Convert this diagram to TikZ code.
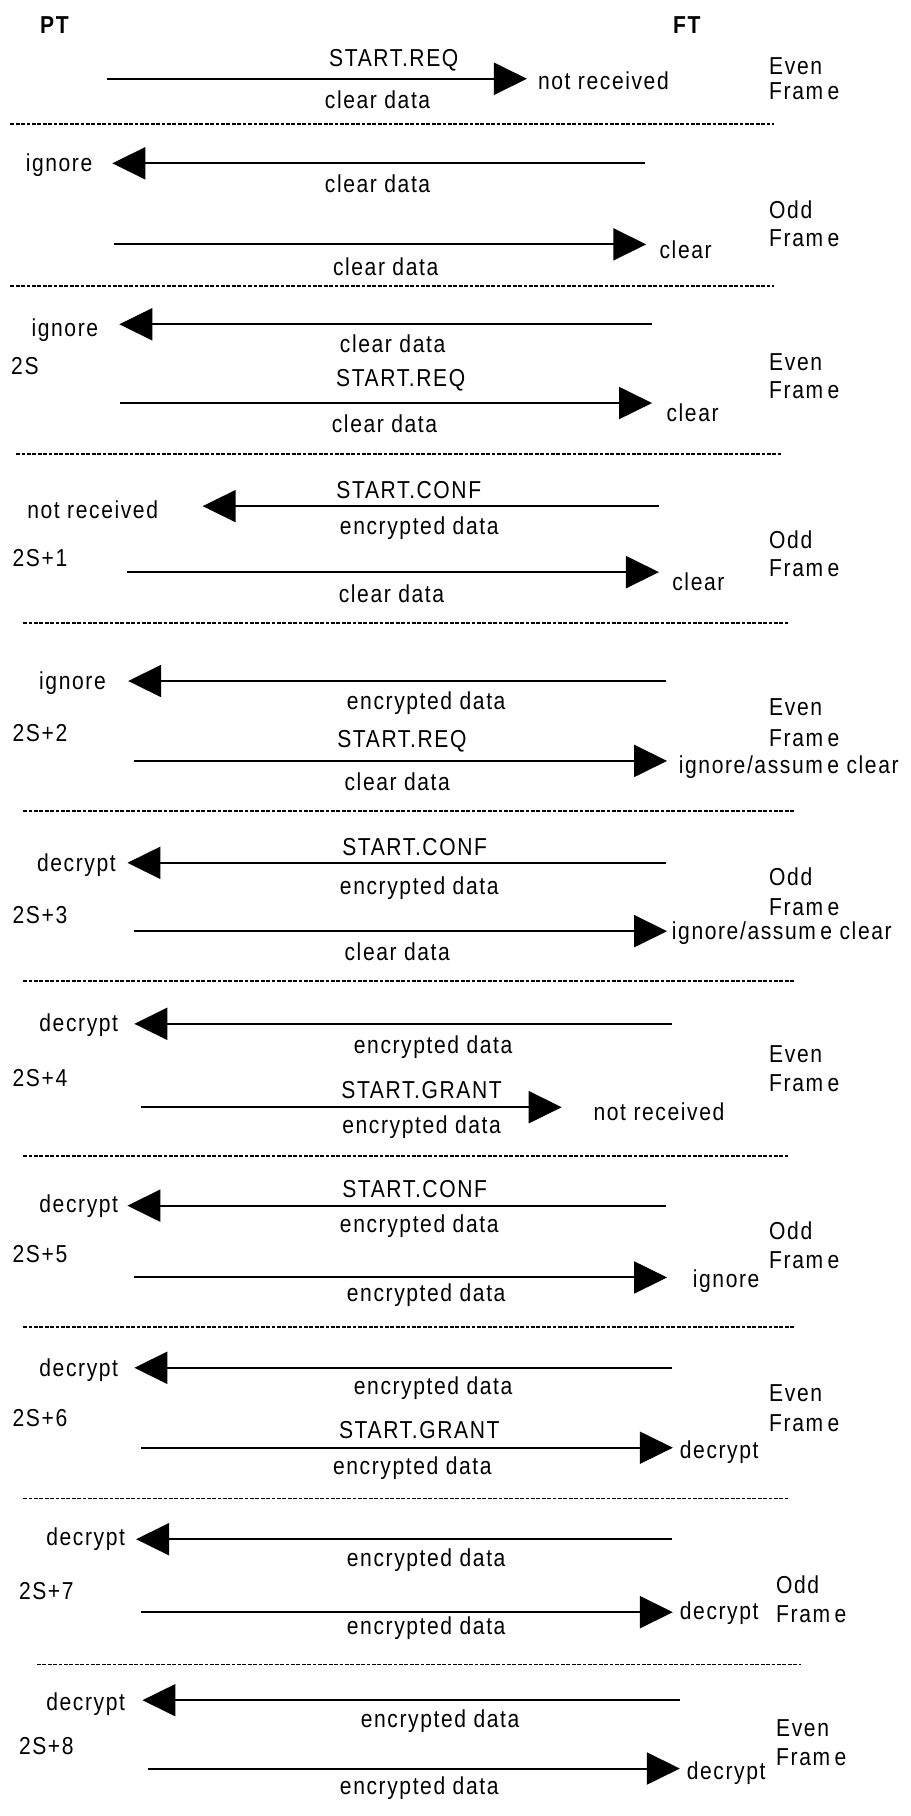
\documentclass[tikz,border=0pt]{standalone}
\usepackage{fontspec}
\setmainfont[FakeStretch=0.86,LetterSpace=6.5]{Liberation Sans}
\usetikzlibrary{arrows.meta}
\newcommand{\frameword}{Fram\kern4.5pt e}
\begin{document}
\begin{tikzpicture}[x=1.1578pt,y=-1.1578pt,
  txt/.style={inner sep=0pt,font=\fontsize{24.5}{28}\selectfont},
  hdr/.style={inner sep=0pt,font=\fontsize{24.5}{28}\selectfont\bfseries},
  frm/.style={inner sep=0pt,anchor=west,font=\fontsize{24.5}{28}\selectfont},
  msg/.style={line width=2pt,-{Triangle[length=33pt,width=32pt]}},
  sepline/.style={line width=1.6pt,dash pattern=on 3.8pt off 1.6pt}]
\useasboundingbox[fill=white] (0,0) rectangle (786,1568);
% header
\node[hdr] (pt) at (47,22) {PT};
\node[hdr] (ft) at (593,22) {FT};
% ---------- S1
\node[txt] (t1) at (340,52) {START.REQ};
\coordinate (a1s) at (92,68); \coordinate (a1e) at (455,68);
\draw[msg] (a1s) -- (a1e);
\node[txt] (r1) at (521,70) {not received};
\node[txt] (b1) at (326,86) {clear data};
\node[frm] (f1a) at (664,57) {Even};
\node[frm] (f1b) at (664,79) {\frameword};
\coordinate (d1s) at (9,107); \coordinate (d1e) at (668,107);
\draw[sepline] (d1s) -- (d1e);
% ---------- S2
\coordinate (l2s) at (557,141); \coordinate (l2e) at (97,141);
\draw[msg] (l2s) -- (l2e);
\node[txt] (ll2) at (51,143) {ignore};
\node[txt] (m2) at (326,159) {clear data};
\node[frm] (f2a) at (664,181) {Odd};
\node[frm] (f2b) at (664,206) {\frameword};
\coordinate (a2s) at (98,211); \coordinate (a2e) at (558,211);
\draw[msg] (a2s) -- (a2e);
\node[txt] (r2) at (592,216) {clear};
\node[txt] (b2) at (333,230) {clear data};
\coordinate (d2s) at (9,247); \coordinate (d2e) at (668,247);
\draw[sepline] (d2s) -- (d2e);
% ---------- S3
\coordinate (l3s) at (563,280); \coordinate (l3e) at (103,280);
\draw[msg] (l3s) -- (l3e);
\node[txt] (ll3) at (56,285) {ignore};
\node[txt] (m3) at (339,297) {clear data};
\node[txt] (n3) at (21.5,316) {2S};
\node[frm] (f3a) at (664,313) {Even};
\node[frm] (f3b) at (664,337) {\frameword};
\node[txt] (t3) at (346,328) {START.REQ};
\coordinate (a3s) at (104,348); \coordinate (a3e) at (563,348);
\draw[msg] (a3s) -- (a3e);
\node[txt] (r3) at (598,356) {clear};
\node[txt] (b3) at (332,366) {clear data};
\coordinate (d3s) at (14,392); \coordinate (d3e) at (674,392);
\draw[sepline] (d3s) -- (d3e);
% ---------- S4
\node[txt] (t4) at (353,423) {START.CONF};
\coordinate (l4s) at (569,437); \coordinate (l4e) at (175,437);
\draw[msg] (l4s) -- (l4e);
\node[txt] (ll4) at (80,440) {not received};
\node[txt] (m4) at (362,456) {encrypted data};
\node[txt] (n4) at (34.5,482) {2S+1};
\node[frm] (f4a) at (664,466) {Odd};
\node[frm] (f4b) at (664,491) {\frameword};
\coordinate (a4s) at (110,494); \coordinate (a4e) at (569,494);
\draw[msg] (a4s) -- (a4e);
\node[txt] (r4) at (603,502) {clear};
\node[txt] (b4) at (338,513) {clear data};
\coordinate (d4s) at (20,538); \coordinate (d4e) at (680,538);
\draw[sepline] (d4s) -- (d4e);
% ---------- S5
\coordinate (l5s) at (575,588); \coordinate (l5e) at (110.7,588);
\draw[msg] (l5s) -- (l5e);
\node[txt] (ll5) at (62.6,590) {ignore};
\node[txt] (m5) at (368,607) {encrypted data};
\node[txt] (n5) at (34.5,633) {2S+2};
\node[frm] (f5a) at (664,611) {Even};
\node[frm] (f5b) at (664,637) {\frameword};
\node[txt] (t5) at (347,640) {START.REQ};
\coordinate (a5s) at (116,657); \coordinate (a5e) at (576,657);
\draw[msg] (a5s) -- (a5e);
\node[frm] (r5) at (586,662) {ignore/assum\kern4.5pt e clear};
\node[txt] (b5) at (343,675) {clear data};
\coordinate (d5s) at (20,700); \coordinate (d5e) at (686,700);
\draw[sepline] (d5s) -- (d5e);
% ---------- S6
\node[txt] (t6) at (358,731) {START.CONF};
\coordinate (l6s) at (575,745); \coordinate (l6e) at (110,745);
\draw[msg] (l6s) -- (l6e);
\node[txt] (ll6) at (66,747) {decrypt};
\node[txt] (m6) at (362,767) {encrypted data};
\node[txt] (n6) at (34.5,790) {2S+3};
\node[frm] (f6a) at (664,757) {Odd};
\node[frm] (f6b) at (664,783) {\frameword};
\coordinate (a6s) at (116,804); \coordinate (a6e) at (576,804);
\draw[msg] (a6s) -- (a6e);
\node[frm] (r6) at (580,806) {ignore/assum\kern4.5pt e clear};
\node[txt] (b6) at (343,822) {clear data};
\coordinate (d6s) at (20,847); \coordinate (d6e) at (686,847);
\draw[sepline] (d6s) -- (d6e);
% ---------- S7
\coordinate (l7s) at (580,884); \coordinate (l7e) at (116,884);
\draw[msg] (l7s) -- (l7e);
\node[txt] (ll7) at (68,885) {decrypt};
\node[txt] (m7) at (374,904) {encrypted data};
\node[txt] (n7) at (34.5,931) {2S+4};
\node[frm] (f7a) at (664,910) {Even};
\node[frm] (f7b) at (664,935) {\frameword};
\node[txt] (t7) at (364,941) {START.GRANT};
\coordinate (a7s) at (122,956); \coordinate (a7e) at (485,956);
\draw[msg] (a7s) -- (a7e);
\node[txt] (r7) at (569,960) {not received};
\node[txt] (b7) at (364,973) {encrypted data};
\coordinate (d7s) at (20,998); \coordinate (d7e) at (680,998);
\draw[sepline] (d7s) -- (d7e);
% ---------- S8
\node[txt] (t8) at (358,1027) {START.CONF};
\coordinate (l8s) at (575,1041); \coordinate (l8e) at (110,1041);
\draw[msg] (l8s) -- (l8e);
\node[txt] (ll8) at (68,1041) {decrypt};
\node[txt] (m8) at (362,1059) {encrypted data};
\node[txt] (n8) at (34.5,1083) {2S+5};
\node[frm] (f8a) at (664,1063) {Odd};
\node[frm] (f8b) at (664,1088) {\frameword};
\coordinate (a8s) at (116,1103); \coordinate (a8e) at (576,1103);
\draw[msg] (a8s) -- (a8e);
\node[txt] (r8) at (627,1106) {ignore};
\node[txt] (b8) at (368,1118) {encrypted data};
\coordinate (d8s) at (20,1146); \coordinate (d8e) at (686,1146);
\draw[sepline] (d8s) -- (d8e);
% ---------- S9
\coordinate (l9s) at (580,1181); \coordinate (l9e) at (116,1181);
\draw[msg] (l9s) -- (l9e);
\node[txt] (ll9) at (68,1183) {decrypt};
\node[txt] (m9) at (374,1199) {encrypted data};
\node[txt] (n9) at (34.5,1224) {2S+6};
\node[frm] (f9a) at (664,1203) {Even};
\node[frm] (f9b) at (664,1229) {\frameword};
\node[txt] (t9) at (362,1235) {START.GRANT};
\coordinate (a9s) at (122,1250); \coordinate (a9e) at (581,1250);
\draw[msg] (a9s) -- (a9e);
\node[txt] (r9) at (621,1254) {decrypt};
\node[txt] (b9) at (356,1268) {encrypted data};
\coordinate (d9s) at (20,1294); \coordinate (d9e) at (680,1294);
\draw[sepline] (d9s) -- (d9e);
% ---------- S10
\coordinate (l10s) at (580,1329); \coordinate (l10e) at (117.5,1329);
\draw[msg] (l10s) -- (l10e);
\node[txt] (ll10) at (74,1329) {decrypt};
\node[txt] (m10) at (368,1347) {encrypted data};
\node[txt] (n10) at (40,1374) {2S+7};
\node[frm] (f10a) at (670,1368) {Odd};
\node[frm] (f10b) at (670,1394) {\frameword};
\coordinate (a10s) at (121.5,1392); \coordinate (a10e) at (581,1392);
\draw[msg] (a10s) -- (a10e);
\node[txt] (r10) at (621,1393) {decrypt};
\node[txt] (b10) at (368,1406) {encrypted data};
\coordinate (d10s) at (32,1437); \coordinate (d10e) at (692,1437);
\draw[sepline] (d10s) -- (d10e);
% ---------- S11
\coordinate (l11s) at (587,1468); \coordinate (l11e) at (123,1468);
\draw[msg] (l11s) -- (l11e);
\node[txt] (ll11) at (74,1471) {decrypt};
\node[txt] (m11) at (380,1486) {encrypted data};
\node[txt] (n11) at (40,1508) {2S+8};
\node[frm] (f11a) at (670,1492) {Even};
\node[frm] (f11b) at (670,1517) {\frameword};
\coordinate (a11s) at (127.5,1527); \coordinate (a11e) at (587,1527);
\draw[msg] (a11s) -- (a11e);
\node[txt] (r11) at (627,1531) {decrypt};
\node[txt] (b11) at (362,1544) {encrypted data};
\end{tikzpicture}
\end{document}
